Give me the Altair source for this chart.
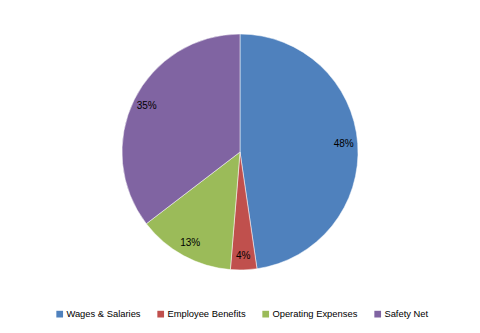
import altair as alt
import pandas as pd

categories = ["Wages & Salaries", "Employee Benefits", "Operating Expenses", "Safety Net"]
values = [47.7, 3.6, 13.3, 35.4]
labels = ["48%", "4%", "13%", "35%"]
colors = ["#4F81BD", "#C0504D", "#9BBB59", "#8064A2"]

df = pd.DataFrame({"category": categories, "value": values, "label": labels,
                   "order": list(range(len(categories)))})

base = alt.Chart(df).encode(
    theta=alt.Theta("value:Q", stack=True),
    order=alt.Order("order:Q"),
    x=alt.value(240), y=alt.value(152),
)

arcs = base.mark_arc(outerRadius=118, stroke="white", strokeWidth=0.5).encode(
    color=alt.Color("category:N",
                    scale=alt.Scale(domain=categories, range=colors),
                    legend=alt.Legend(title=None, orient="none", direction="horizontal",
                                      legendX=55, legendY=309, symbolType="square",
                                      symbolSize=45, symbolStrokeWidth=0,
                                      labelFont="Liberation Sans", labelFontSize=9.4,
                                      labelColor="#000000", columnPadding=15,
                                      symbolOffset=0, labelOffset=2))
)

text = base.mark_text(radius=104, font="Liberation Sans", fontSize=10, color="#000000").encode(
    text="label:N"
)

chart = (arcs + text).properties(
    width=480, height=333, autosize=alt.AutoSizeParams(type="none"), padding=0
).configure_view(stroke=None)

chart.save("out.html", embed_options={"renderer": "svg", "actions": False})
